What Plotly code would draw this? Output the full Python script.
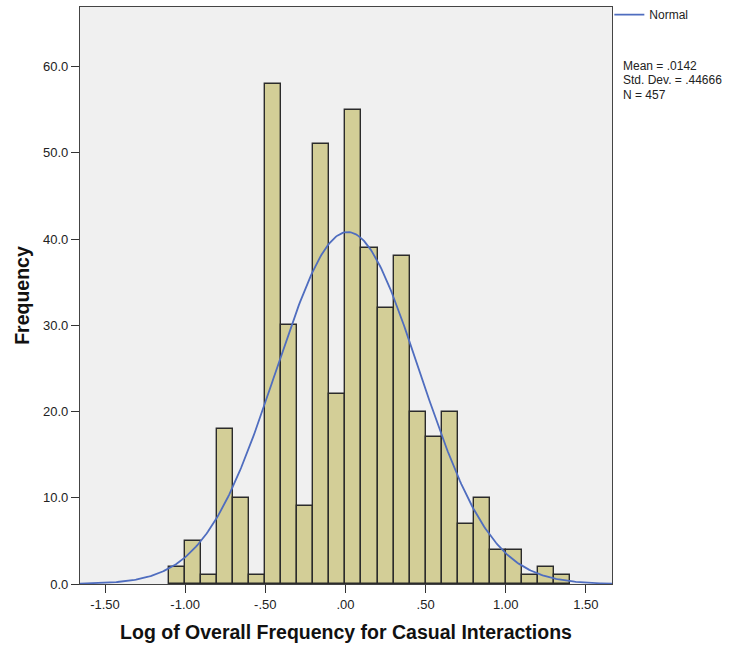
import numpy as np
import plotly.graph_objects as go

# Histogram bins (lower edges) and counts
bin_starts = [-1.1, -1.0, -0.9, -0.8, -0.7, -0.6, -0.5, -0.4, -0.3, -0.2, -0.1,
              0.0, 0.1, 0.2, 0.3, 0.4, 0.5, 0.6, 0.7, 0.8, 0.9, 1.0, 1.1, 1.2, 1.3]
counts = [2, 5, 1, 18, 10, 1, 58, 30, 9, 51, 22,
          55, 39, 32, 38, 20, 17, 20, 7, 10, 4, 4, 1, 2, 1]
bin_width = 0.1

# Summary statistics
mean = 0.0142
std_dev = 0.44666
n_obs = 457
stats_lines = ["Mean = .0142", "Std. Dev. = .44666", "N = 457"]

x_tick_vals = [-1.5, -1.0, -0.5, 0.0, 0.5, 1.0, 1.5]
x_tick_text = ["-1.50", "-1.00", "-.50", ".00", ".50", "1.00", "1.50"]
y_tick_vals = [0, 10, 20, 30, 40, 50, 60]
y_tick_text = ["0.0", "10.0", "20.0", "30.0", "40.0", "50.0", "60.0"]

x_range = [-1.656, 1.663]
y_range = [0, 66.9]

centers = [s + bin_width / 2 for s in bin_starts]

# Fitted normal curve scaled to counts
xs = np.linspace(x_range[0], x_range[1], 400)
ys = n_obs * bin_width / (std_dev * np.sqrt(2 * np.pi)) * np.exp(-0.5 * ((xs - mean) / std_dev) ** 2)

FONT = "Liberation Sans, Arial, sans-serif"

fig = go.Figure()
fig.add_trace(go.Bar(
    x=centers, y=counts, width=bin_width,
    marker=dict(color="#D3CE97", line=dict(color="#2b2b2b", width=1.4)),
    showlegend=False, hoverinfo="x+y",
))
fig.add_trace(go.Scatter(
    x=xs, y=ys, mode="lines", name="Normal",
    line=dict(color="#4F6DBF", width=1.8),
    showlegend=True,
))

# Statistics block beside the plot, one line per annotation for tight spacing
annotations = []
for i, line in enumerate(stats_lines):
    annotations.append(dict(
        xref="paper", yref="paper", x=1.016, y=0.898, xanchor="left", yanchor="middle",
        yshift=-14.5 * i, align="left", showarrow=False, text=line,
        font=dict(family=FONT, size=12, color="#222222"),
    ))

fig.update_layout(
    width=741, height=648,
    margin=dict(l=80, r=129, t=7, b=64, autoexpand=False),
    paper_bgcolor="white",
    plot_bgcolor="#F0F0F0",
    bargap=0,
    font=dict(family=FONT, size=12, color="#222222"),
    legend=dict(
        x=0.995, xanchor="left", y=1.012, yanchor="top",
        bgcolor="rgba(0,0,0,0)", itemwidth=30,
        font=dict(family=FONT, size=12, color="#222222"),
    ),
    xaxis=dict(
        range=x_range, tickvals=x_tick_vals, ticktext=x_tick_text,
        ticks="outside", ticklen=8, tickcolor="#333333",
        showgrid=False, zeroline=False,
        showline=True, linecolor="#444444", linewidth=1.2, mirror=True,
        tickfont=dict(family=FONT, size=13, color="#222222"),
        title=dict(text="<b>Log of Overall Frequency for Casual Interactions</b>",
                   font=dict(family=FONT, size=19.5, color="#111111"), standoff=14),
    ),
    yaxis=dict(
        range=y_range, tickvals=y_tick_vals, ticktext=y_tick_text,
        ticks="outside", ticklen=8, tickcolor="#333333",
        showgrid=False, zeroline=False,
        showline=True, linecolor="#444444", linewidth=1.2, mirror=True,
        tickfont=dict(family=FONT, size=13, color="#222222"),
        title=dict(text="<b>Frequency</b>",
                   font=dict(family=FONT, size=19.5, color="#111111"), standoff=8),
    ),
    annotations=annotations,
)

fig.write_html("out.html")
